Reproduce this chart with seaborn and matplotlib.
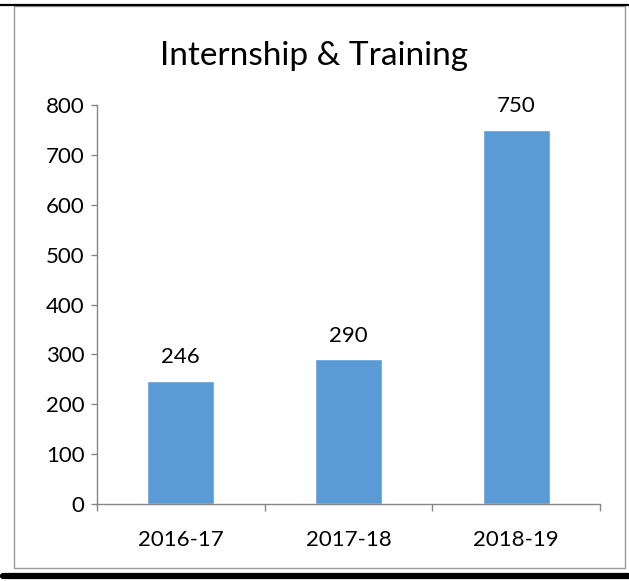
import matplotlib
matplotlib.use("Agg")
import matplotlib.pyplot as plt
import seaborn as sns
import pandas as pd
from matplotlib.patches import Rectangle
from matplotlib.lines import Line2D

years = ["2016-17", "2017-18", "2018-19"]
students = [246, 290, 750]
title = "Internship & Training"

sns.set_theme(style="white")
plt.rcParams["font.family"] = ["Lato", "DejaVu Sans"]

df = pd.DataFrame({"year": years, "count": students})

fig = plt.figure(figsize=(6.29, 5.81), dpi=100)
ax = fig.add_axes([0.154, 0.1325, 0.8, 0.6865])

sns.barplot(data=df, x="year", y="count", color="#5B9BD5", saturation=1,
            width=0.4, ax=ax)

for c in ax.containers:
    ax.bar_label(c, padding=10, fontsize=16, color="black")

ax.set_ylim(0, 800)
ax.set_yticks(range(0, 801, 100))
ax.set_xlim(-0.5, 2.5)
ax.set_xlabel("")
ax.set_ylabel("")

# spines like a spreadsheet chart
for s in ["top", "right"]:
    ax.spines[s].set_visible(False)
for s in ["left", "bottom"]:
    ax.spines[s].set_color("#868686")
    ax.spines[s].set_linewidth(1.0)

ax.tick_params(axis="y", which="major", left=True, length=4, width=1,
               color="#868686", labelsize=16, labelcolor="black", pad=5)
ax.tick_params(axis="x", which="major", length=0, labelsize=16,
               labelcolor="black", pad=19)
ax.set_xticks([-0.5, 0.5, 1.5, 2.5], minor=True)
ax.tick_params(axis="x", which="minor", bottom=True, length=5, width=1,
               color="#868686")

fig.text(0.5, 0.903, title, ha="center", va="center", fontsize=24,
         color="black")

# frame around the chart
fig.patches.append(Rectangle((14 / 629, 1 - 568 / 581), 611 / 629, 562 / 581,
                             transform=fig.transFigure, fill=False,
                             edgecolor="#9a9a9a", linewidth=1))
fig.lines.append(Line2D([0, 1], [1 - 5 / 581, 1 - 5 / 581],
                        transform=fig.transFigure, color="black", linewidth=1.6))
fig.lines.append(Line2D([3 / 629, 1], [1 - 576 / 581, 1 - 576 / 581],
                        transform=fig.transFigure, color="black", linewidth=4.5))

fig.savefig("out.png", dpi=100)
